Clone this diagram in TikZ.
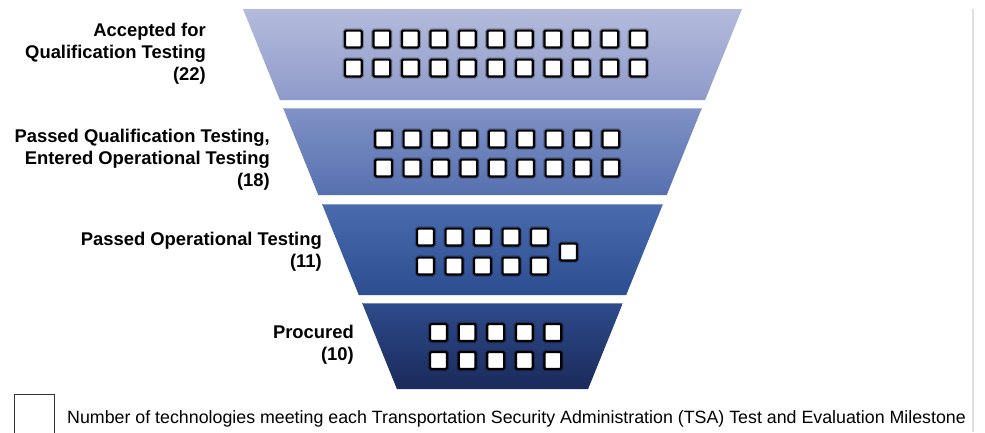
\documentclass[tikz,border=0pt]{standalone}
\usepackage{fontspec}
\setmainfont{Liberation Sans}

\definecolor{bandA1}{HTML}{B4BBDC}
\definecolor{bandA2}{HTML}{8E9AC9}
\definecolor{bandB1}{HTML}{8092C6}
\definecolor{bandB2}{HTML}{5670AF}
\definecolor{bandC1}{HTML}{4A6BAE}
\definecolor{bandC2}{HTML}{2D4D91}
\definecolor{bandD1}{HTML}{2E4B8B}
\definecolor{bandD2}{HTML}{1A2A5B}

\tikzset{
  tech/.style={draw=black, line width=2.2pt, fill=white, minimum size=16.8pt,
    inner sep=0pt, outer sep=0pt, rounded corners=1.2pt,
    preaction={draw=black, draw opacity=0.25, line width=4.4pt}},
  stage/.style={align=right, inner sep=0pt,
    font=\bfseries\fontsize{18.4}{21.8}\selectfont},
  rim/.style={draw=white, draw opacity=0.35, line width=0.8pt},
}

\begin{document}
\begin{tikzpicture}[x=1pt,y=-1pt]
\useasboundingbox (0,0) rectangle (985,432);

% funnel bands, darkening towards the bottom
\shade[top color=bandA1, bottom color=bandA2] (243,9) -- (742,9) -- (705.1,100) -- (279.9,100) -- cycle;
\shade[top color=bandB1, bottom color=bandB2] (283.1,108) -- (701.9,108) -- (666.7,195) -- (318.3,195) -- cycle;
\shade[top color=bandC1, bottom color=bandC2] (322.0,204) -- (663.0,204) -- (626.2,295) -- (358.8,295) -- cycle;
\shade[top color=bandD1, bottom color=bandD2] (362.1,303) -- (622.9,303) -- (588.1,389) -- (396.9,389) -- cycle;
\draw[rim] (283.6,108.4) -- (701.4,108.4);
\draw[rim] (322.5,204.4) -- (662.5,204.4);
\draw[rim] (362.6,303.4) -- (622.4,303.4);

% technologies per milestone
\foreach \i in {1,...,11} {
  \node[tech] (qa-\i) at ({495.8+(\i-6)*28.5},39) {};
  \node[tech] (qb-\i) at ({495.8+(\i-6)*28.5},68) {};
}
\foreach \i in {1,...,9} {
  \node[tech] (ea-\i) at ({497.2+(\i-5)*28.4},139) {};
  \node[tech] (eb-\i) at ({497.2+(\i-5)*28.4},168) {};
}
\foreach \i in {1,...,5} {
  \node[tech] (oa-\i) at ({482.5+(\i-3)*28.5},237) {};
  \node[tech] (ob-\i) at ({482.5+(\i-3)*28.5},266) {};
  \node[tech] (pa-\i) at ({495.7+(\i-3)*28.6},332.5) {};
  \node[tech] (pb-\i) at ({495.7+(\i-3)*28.6},360.5) {};
}
\node[tech] (o-extra) at (568.5,252) {};

% milestone labels (anchored at the baseline of their last line)
\node[stage, anchor=base east] (l-qual) at (206,80) {Accepted for\\Qualification Testing\\(22)};
\node[stage, anchor=base east] (l-ent) at (270,186) {Passed Qualification Testing,\\Entered Operational Testing\\(18)};
\node[stage, anchor=base east] (l-op) at (322,267) {Passed Operational Testing\\(11)};
\node[stage, anchor=base east] (l-proc) at (354,360) {Procured\\(10)};

% legend
\node[draw=black!80, line width=1.6pt, anchor=north west, minimum width=40pt,
  minimum height=60pt, inner sep=0pt] (key) at (13.5,393.5) {};
\node[anchor=base west, inner sep=0pt, font=\fontsize{17.8}{20}\selectfont]
  (key-text) at (67,423) {Number of technologies meeting each Transportation Security Administration (TSA) Test and Evaluation Milestone};

% frame edge on the right
\draw[black!12, line width=2pt] (973,9) -- (973,432);
\end{tikzpicture}
\end{document}
